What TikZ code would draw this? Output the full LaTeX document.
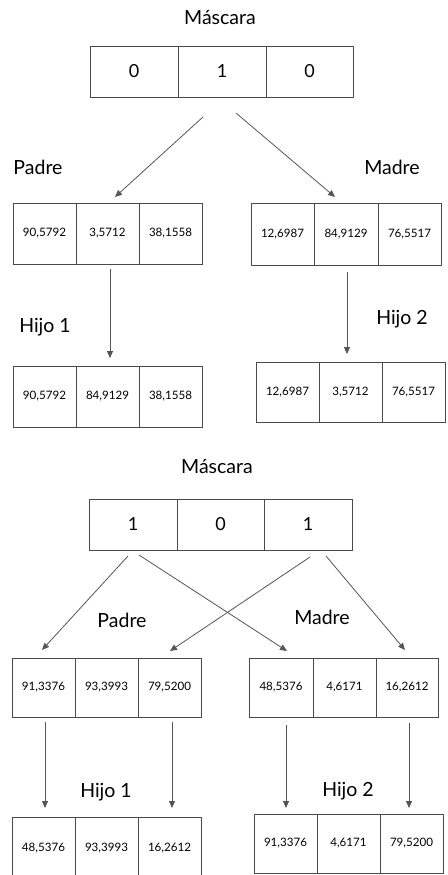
\documentclass[tikz,border=0pt]{standalone}
\usepackage{fontspec}
\setmainfont{Lato}
\usetikzlibrary{arrows.meta}
\definecolor{edge}{HTML}{555555}
\definecolor{frame}{HTML}{4A4A4A}
\begin{document}
\begin{tikzpicture}[x=1pt,y=-1pt,
  cell/.style={draw=frame,line width=0.9pt,outer sep=0pt,inner sep=0pt,
    minimum width=#1,anchor=north west,font=\fontsize{11.6}{13}\selectfont},
  cell/.default=63pt,
  bit/.style={draw=frame,line width=0.9pt,outer sep=0pt,inner sep=0pt,
    minimum width=#1,minimum height=51pt,anchor=north west,
    font=\fontsize{18}{20}\selectfont},
  bit/.default=88pt,
  lbl/.style={font=\fontsize{19.5}{22}\selectfont,inner sep=0pt},
  link/.style={draw=edge,line width=0.8pt,-{Triangle[length=7pt,width=6pt]}}]
\useasboundingbox (0,0) rectangle (447,875);
\clip (0,0) rectangle (447,875);

% ---------- first crossover: mask 0 1 0 ----------
\node[lbl] (mk1) at (220,18) {Máscara};
\node[bit] (m1a) at (90,46) {0};
\node[bit] (m1b) at (178,46) {1};
\node[bit=87pt] (m1c) at (266,46) {0};

\node[lbl] (pa1) at (38,167) {Padre};
\node[lbl] (ma1) at (392,167) {Madre};

\node[cell,minimum height=61pt] (p1a) at (13,203) {90,5792};
\node[cell,minimum height=61pt] (p1b) at (76,203) {3,5712};
\node[cell,minimum height=61pt] (p1c) at (139,203) {38,1558};

\node[cell,minimum height=62pt] (q1a) at (251,203) {12,6987};
\node[cell=64pt,minimum height=62pt] (q1b) at (314,203) {84,9129};
\node[cell,minimum height=62pt] (q1c) at (378,203) {76,5517};

\node[lbl] (h1l) at (45,327) {Hijo 1};
\node[lbl] (h2l) at (402,319) {Hijo 2};

\node[cell,minimum height=61pt] (c1a) at (13,366) {90,5792};
\node[cell,minimum height=61pt] (c1b) at (76,366) {84,9129};
\node[cell,minimum height=61pt] (c1c) at (139,366) {38,1558};

\node[cell,minimum height=60pt] (d1a) at (256,362) {12,6987};
\node[cell,minimum height=60pt] (d1b) at (319,362) {3,5712};
\node[cell,minimum height=60pt] (d1c) at (382,362) {76,5517};

\coordinate (s1l) at (203,117);
\coordinate (e1l) at (115,197);
\coordinate (s1r) at (236,113);
\coordinate (e1r) at (335,197);
\coordinate (s1p) at (110,269);
\coordinate (e1p) at (110,358);
\coordinate (s1q) at (347,272);
\coordinate (e1q) at (347,354);
\draw[link] (s1l) -- (e1l);
\draw[link] (s1r) -- (e1r);
\draw[link] (s1p) -- (e1p);
\draw[link] (s1q) -- (e1q);

% ---------- second crossover: mask 1 0 1 ----------
\node[lbl] (mk2) at (217,467) {Máscara};
\node[bit] (m2a) at (89,499) {1};
\node[bit=87pt] (m2b) at (177,499) {0};
\node[bit] (m2c) at (264,499) {1};

\node[lbl] (pa2) at (122,620) {Padre};
\node[lbl] (ma2) at (322,617) {Madre};

\node[cell,minimum height=59pt] (p2a) at (12,658) {91,3376};
\node[cell,minimum height=59pt] (p2b) at (75,658) {93,3993};
\node[cell,minimum height=59pt] (p2c) at (138,658) {79,5200};

\node[cell=64pt,minimum height=59pt] (q2a) at (249,658) {48,5376};
\node[cell,minimum height=59pt] (q2b) at (313,658) {4,6171};
\node[cell=62pt,minimum height=59pt] (q2c) at (376,658) {16,2612};

\node[lbl] (h1m) at (106,792) {Hijo 1};
\node[lbl] (h2m) at (348,791) {Hijo 2};

\node[cell,minimum height=63pt] (c2a) at (12,817) {48,5376};
\node[cell,minimum height=63pt] (c2b) at (75,817) {93,3993};
\node[cell,minimum height=63pt] (c2c) at (138,817) {16,2612};

\node[cell,minimum height=59pt] (d2a) at (254,814) {91,3376};
\node[cell,minimum height=59pt] (d2b) at (317,814) {4,6171};
\node[cell,minimum height=59pt] (d2c) at (380,814) {79,5200};

\coordinate (s2a) at (128,556);
\coordinate (e2a) at (42,650);
\coordinate (s2b) at (139,555);
\coordinate (e2b) at (287,651);
\coordinate (s2c) at (310,557);
\coordinate (e2c) at (170,651);
\coordinate (s2d) at (326,556);
\coordinate (e2d) at (405,650);
\draw[link] (s2a) -- (e2a);
\draw[link] (s2b) -- (e2b);
\draw[link] (s2c) -- (e2c);
\draw[link] (s2d) -- (e2d);

\coordinate (s2p) at (45,722);
\coordinate (e2p) at (45,808);
\coordinate (s2r) at (172,722);
\coordinate (e2r) at (172,808);
\coordinate (s2q) at (286,725);
\coordinate (e2q) at (286,808);
\coordinate (s2s) at (409,723);
\coordinate (e2s) at (409,808);
\draw[link] (s2p) -- (e2p);
\draw[link] (s2r) -- (e2r);
\draw[link] (s2q) -- (e2q);
\draw[link] (s2s) -- (e2s);
\end{tikzpicture}
\end{document}
